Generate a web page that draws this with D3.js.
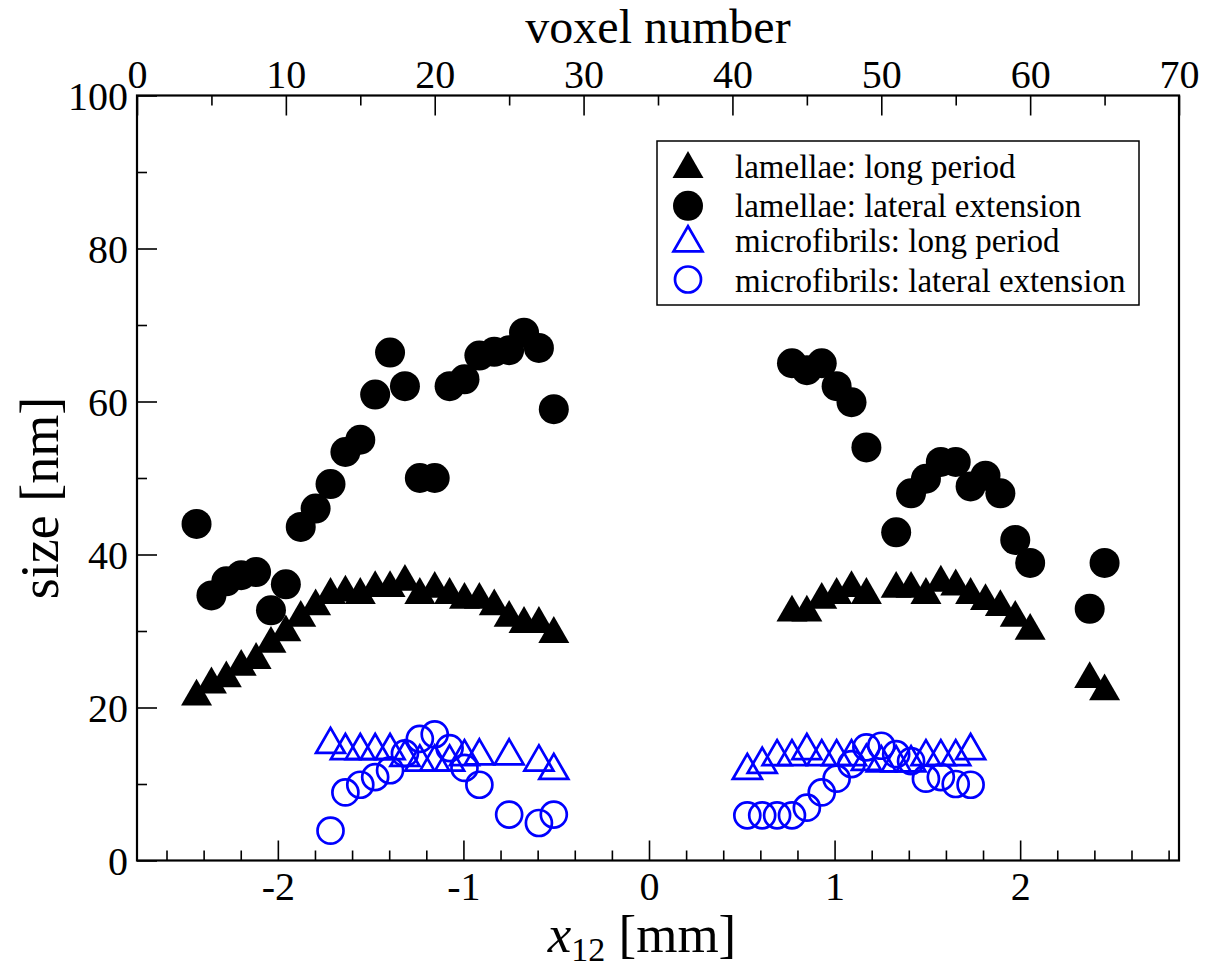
<!DOCTYPE html>
<html><head><meta charset="utf-8">
<script src="https://cdn.jsdelivr.net/npm/d3@7"></script>
<style>body{margin:0;background:#fff} text{font-family:"Liberation Serif","Times New Roman",serif;fill:#000}</style>
</head><body><svg id="c" width="1215" height="970"></svg>
<script>
// ---- data (x = voxel number, y = size in nm) ----
const lamLongVoxel = [4,5,6,7,8,9,10,11,12,13,14,15,16,17,18,19,20,21,22,23,24,25,26,27,28,
  44,45,46,47,48,49,51,52,53,54,55,56,57,58,59,60,64,65];
const lamLongSize = [22.0,23.6,24.4,25.9,26.8,28.9,30.4,32.3,33.8,35.3,35.6,35.3,36.2,36.2,37.0,35.3,36.1,35.3,34.65,34.65,33.8,32.3,31.5,31.5,30.2,
  33.0,33.0,34.65,35.3,36.2,35.3,36.1,36.1,35.3,36.9,36.4,35.3,34.5,33.7,32.3,30.6,24.3,22.7];

const lamLatVoxel = [4,5,6,7,8,9,10,11,12,13,14,15,16,17,18,19,20,21,22,23,24,25,26,27,28,
  44,45,46,47,48,49,51,52,53,54,55,56,57,58,59,60,64,65];
const lamLatSize = [44.0,34.65,36.5,37.3,37.7,32.7,36.1,43.6,46.0,49.2,53.4,55.0,60.9,66.4,62.0,50.0,50.0,62.0,62.9,66.0,66.5,66.7,69.0,67.0,59.0,
  65.0,64.1,65.0,62.0,59.9,54.0,42.9,48.0,49.9,52.1,52.1,48.9,50.3,48.0,41.9,38.9,32.9,38.9];

const micLongVoxel = [13,14,15,16,17,18,19,20,21,22,23,25,27,28,
  41,42,43,44,45,46,47,48,49,50,51,52,53,54,55,56];
const micLongSize = [15.7,14.9,14.9,14.9,14.9,14.0,13.4,13.4,13.4,14.1,14.2,14.2,13.4,12.3,
  12.3,13.1,14.1,14.1,14.9,14.1,14.1,14.1,13.5,13.3,13.3,13.3,14.1,14.1,14.1,14.9];

const micLatVoxel = [13,14,15,16,17,18,19,20,21,22,23,25,27,28,
  41,42,43,44,45,46,47,48,49,50,51,52,53,54,55,56];
const micLatSize = [3.9,8.9,9.9,10.9,11.8,14.0,15.9,16.5,14.7,12.1,9.9,6.0,4.9,6.0,
  5.9,5.9,5.9,5.9,6.9,8.9,10.7,12.6,14.8,15.0,13.9,13.0,10.7,10.9,10.0,9.9];

const seriesNames = ["lamellae: long period","lamellae: lateral extension","microfibrils: long period","microfibrils: lateral extension"];
const bottomTicks = [-2,-1,0,1,2];
const bottomMinor = [-2.6,-2.4,-2.2,-1.8,-1.6,-1.4,-1.2,-0.8,-0.6,-0.4,-0.2,0.2,0.4,0.6,0.8,1.2,1.4,1.6,1.8,2.2,2.4,2.6,2.8];
const topTicks = [0,10,20,30,40,50,60,70];
const topMinor = [5,15,25,35,45,55,65];
const yTicks = [0,20,40,60,80,100];
const yMinor = [10,30,50,70,90];

// ---- layout ----
const L=137, R=1179, T=95.5, B=860.5;
const svg = d3.select("#c");
const xv = d3.scaleLinear().domain([0,70]).range([L,R]);
const xmm = d3.scaleLinear().domain([-2.759,2.856]).range([L,R]);
const y = d3.scaleLinear().domain([0,100]).range([B,T]);
const FS = 40;

function styleAxis(g){
  g.select(".domain").remove();
  g.selectAll(".tick line").attr("stroke","#000").attr("stroke-width",1.6);
  g.selectAll(".tick text").attr("font-size",FS).attr("font-family","Liberation Serif").attr("fill","#000");
}
// bottom
svg.append("g").attr("transform",`translate(0,${B})`)
  .call(d3.axisBottom(xmm).tickValues(bottomTicks).tickSize(-20).tickPadding(11).tickFormat(d3.format("d")))
  .call(styleAxis).selectAll(".tick text").text(d=>d<0?"-"+Math.abs(d):d);
svg.append("g").attr("transform",`translate(0,${B})`)
  .call(d3.axisBottom(xmm).tickValues(bottomMinor).tickSize(-10).tickFormat(""))
  .call(styleAxis);
// top
svg.append("g").attr("transform",`translate(0,${T})`)
  .call(d3.axisTop(xv).tickValues(topTicks).tickSize(-20).tickPadding(8).tickFormat(d3.format("d")))
  .call(styleAxis);
svg.append("g").attr("transform",`translate(0,${T})`)
  .call(d3.axisTop(xv).tickValues(topMinor).tickSize(-10).tickFormat(""))
  .call(styleAxis);
// left
svg.append("g").attr("transform",`translate(${L},0)`)
  .call(d3.axisLeft(y).tickValues(yTicks).tickSize(-20).tickPadding(9).tickFormat(d3.format("d")))
  .call(styleAxis).selectAll(".tick text").attr("dy","0.34em");
svg.append("g").attr("transform",`translate(${L},0)`)
  .call(d3.axisLeft(y).tickValues(yMinor).tickSize(-10).tickFormat(""))
  .call(styleAxis);
// frame
svg.append("rect").attr("x",L).attr("y",T).attr("width",R-L).attr("height",B-T)
  .attr("fill","none").attr("stroke","#000").attr("stroke-width",2.2);

// titles
svg.append("text").attr("x",658).attr("y",43).attr("text-anchor","middle").attr("font-size",48).text("voxel number");
svg.append("text").attr("transform",`translate(58,${498}) rotate(-90)`).attr("text-anchor","middle").attr("font-size",54).text("size [nm]");
const xt = svg.append("text").attr("x",642).attr("y",952).attr("text-anchor","middle").attr("font-size",53);
xt.append("tspan").attr("font-style","italic").text("x");
xt.append("tspan").attr("font-size",34).attr("dy",9).text("12");
xt.append("tspan").attr("dy",-9).text(" [mm]");

// symbols
const triUp = {draw(ctx,size){const a=Math.sqrt(size),h=a*Math.sqrt(3)/2;ctx.moveTo(0,-h/2);ctx.lineTo(a/2,h/2);ctx.lineTo(-a/2,h/2);ctx.closePath();}};
const filledTri = d3.symbol().type(triUp).size(31*31)();
const openTri = d3.symbol().type(triUp).size(29*29)();
const BLUE = "#0000ff";

function zip(a,b){return a.map((v,i)=>({v, s:b[i]}));}
const plot = svg.append("g");
plot.selectAll(".lt").data(zip(lamLongVoxel,lamLongSize)).join("path")
  .attr("d",filledTri).attr("transform",d=>`translate(${xv(d.v)},${y(d.s)})`).attr("fill","#000");
plot.selectAll(".lc").data(zip(lamLatVoxel,lamLatSize)).join("circle")
  .attr("cx",d=>xv(d.v)).attr("cy",d=>y(d.s)).attr("r",15).attr("fill","#000");
plot.selectAll(".mt").data(zip(micLongVoxel,micLongSize)).join("path")
  .attr("d",openTri).attr("transform",d=>`translate(${xv(d.v)},${y(d.s)})`)
  .attr("fill","none").attr("stroke",BLUE).attr("stroke-width",2.7);
plot.selectAll(".mc").data(zip(micLatVoxel,micLatSize)).join("circle")
  .attr("cx",d=>xv(d.v)).attr("cy",d=>y(d.s)).attr("r",13)
  .attr("fill","none").attr("stroke",BLUE).attr("stroke-width",2.7);

// legend
const lg = svg.append("g");
lg.append("rect").attr("x",657).attr("y",141).attr("width",482).attr("height",164)
  .attr("fill","#fff").attr("stroke","#000").attr("stroke-width",1.5);
const rowsMarker = [164.5,205.8,238.8,279.5];
const rowsText = [177.7,217.3,251.7,292.3];
lg.append("path").attr("d",filledTri).attr("transform",`translate(688,${rowsMarker[0]})`).attr("fill","#000");
lg.append("circle").attr("cx",688).attr("cy",rowsMarker[1]).attr("r",15).attr("fill","#000");
lg.append("path").attr("d",openTri).attr("transform",`translate(688,${rowsMarker[2]})`).attr("fill","none").attr("stroke",BLUE).attr("stroke-width",2.7);
lg.append("circle").attr("cx",688).attr("cy",rowsMarker[3]).attr("r",13).attr("fill","none").attr("stroke",BLUE).attr("stroke-width",2.7);
seriesNames.forEach((n,i)=>{
  lg.append("text").attr("x",735).attr("y",rowsText[i]).attr("font-size",33).text(n);
});
</script></body></html>
